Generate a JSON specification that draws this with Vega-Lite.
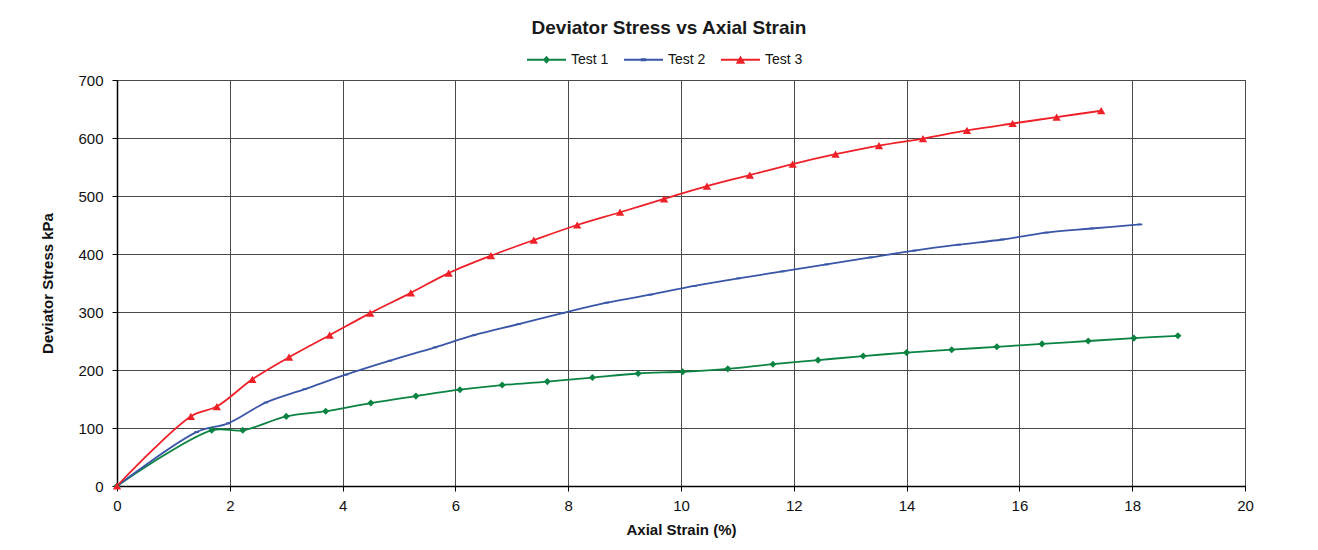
{
  "$schema": "https://vega.github.io/schema/vega-lite/v6.json",
  "autosize": {"type": "none"},
  "width": 1128,
  "height": 406,
  "padding": {"left": 117, "top": 80, "right": 73, "bottom": 64},
  "background": "white",
  "title": {
    "text": "Deviator Stress vs Axial Strain",
    "font": "Liberation Sans",
    "fontSize": 19,
    "fontWeight": "bold",
    "color": "#1a1a1a",
    "anchor": "middle",
    "dx": -12,
    "offset": 2
  },
  "config": {
    "view": {"stroke": "#222", "strokeWidth": 1},
    "font": "Liberation Sans",
    "axis": {
      "labelFont": "Liberation Sans",
      "labelFontSize": 15,
      "labelColor": "#111",
      "labelFlush": false,
      "labelOverlap": false,
      "titleFont": "Liberation Sans",
      "titleFontSize": 15,
      "titleFontWeight": "bold",
      "titleColor": "#111",
      "domainColor": "#000",
      "domainWidth": 1.5,
      "tickColor": "#000",
      "tickSize": 5,
      "gridColor": "#4a4a4a",
      "gridWidth": 1,
      "gridOpacity": 1
    }
  },
  "data": {
    "values": [
      {"test": "Test 1", "strain": 0, "stress": 0},
      {"test": "Test 1", "strain": 1.68, "stress": 96},
      {"test": "Test 1", "strain": 2.23, "stress": 96},
      {"test": "Test 1", "strain": 3.0, "stress": 120},
      {"test": "Test 1", "strain": 3.7, "stress": 129},
      {"test": "Test 1", "strain": 4.5, "stress": 143},
      {"test": "Test 1", "strain": 5.3, "stress": 155},
      {"test": "Test 1", "strain": 6.08, "stress": 166},
      {"test": "Test 1", "strain": 6.83, "stress": 174},
      {"test": "Test 1", "strain": 7.63, "stress": 180},
      {"test": "Test 1", "strain": 8.43, "stress": 187},
      {"test": "Test 1", "strain": 9.24, "stress": 194},
      {"test": "Test 1", "strain": 10.03, "stress": 197},
      {"test": "Test 1", "strain": 10.83, "stress": 202},
      {"test": "Test 1", "strain": 11.63, "stress": 210},
      {"test": "Test 1", "strain": 12.43, "stress": 217},
      {"test": "Test 1", "strain": 13.23, "stress": 224},
      {"test": "Test 1", "strain": 14.0, "stress": 230},
      {"test": "Test 1", "strain": 14.8, "stress": 235},
      {"test": "Test 1", "strain": 15.6, "stress": 240},
      {"test": "Test 1", "strain": 16.4, "stress": 245},
      {"test": "Test 1", "strain": 17.22, "stress": 250},
      {"test": "Test 1", "strain": 18.03, "stress": 255},
      {"test": "Test 1", "strain": 18.81, "stress": 259},
      {"test": "Test 2", "strain": 0, "stress": 0},
      {"test": "Test 2", "strain": 1.41, "stress": 93},
      {"test": "Test 2", "strain": 1.97, "stress": 108},
      {"test": "Test 2", "strain": 2.64, "stress": 144},
      {"test": "Test 2", "strain": 3.33, "stress": 167},
      {"test": "Test 2", "strain": 4.06, "stress": 192},
      {"test": "Test 2", "strain": 4.84, "stress": 216},
      {"test": "Test 2", "strain": 5.64, "stress": 239},
      {"test": "Test 2", "strain": 6.33, "stress": 260},
      {"test": "Test 2", "strain": 7.12, "stress": 279},
      {"test": "Test 2", "strain": 7.9, "stress": 298},
      {"test": "Test 2", "strain": 8.68, "stress": 316},
      {"test": "Test 2", "strain": 9.46, "stress": 330},
      {"test": "Test 2", "strain": 10.24, "stress": 345},
      {"test": "Test 2", "strain": 11.02, "stress": 358},
      {"test": "Test 2", "strain": 11.8, "stress": 370},
      {"test": "Test 2", "strain": 12.58, "stress": 382},
      {"test": "Test 2", "strain": 13.36, "stress": 394},
      {"test": "Test 2", "strain": 14.14, "stress": 406},
      {"test": "Test 2", "strain": 14.92, "stress": 416},
      {"test": "Test 2", "strain": 15.7, "stress": 425},
      {"test": "Test 2", "strain": 16.48, "stress": 437},
      {"test": "Test 2", "strain": 17.28, "stress": 444},
      {"test": "Test 2", "strain": 18.14, "stress": 451},
      {"test": "Test 3", "strain": 0, "stress": 0},
      {"test": "Test 3", "strain": 1.31, "stress": 120},
      {"test": "Test 3", "strain": 1.77, "stress": 137},
      {"test": "Test 3", "strain": 2.4, "stress": 184},
      {"test": "Test 3", "strain": 3.05, "stress": 222},
      {"test": "Test 3", "strain": 3.77, "stress": 260},
      {"test": "Test 3", "strain": 4.49, "stress": 298},
      {"test": "Test 3", "strain": 5.21, "stress": 333},
      {"test": "Test 3", "strain": 5.88, "stress": 367},
      {"test": "Test 3", "strain": 6.63, "stress": 397},
      {"test": "Test 3", "strain": 7.39, "stress": 424},
      {"test": "Test 3", "strain": 8.16, "stress": 450},
      {"test": "Test 3", "strain": 8.92, "stress": 472},
      {"test": "Test 3", "strain": 9.7, "stress": 495},
      {"test": "Test 3", "strain": 10.46, "stress": 517},
      {"test": "Test 3", "strain": 11.22, "stress": 536},
      {"test": "Test 3", "strain": 11.98, "stress": 555},
      {"test": "Test 3", "strain": 12.74, "stress": 572},
      {"test": "Test 3", "strain": 13.51, "stress": 587},
      {"test": "Test 3", "strain": 14.29, "stress": 599},
      {"test": "Test 3", "strain": 15.07, "stress": 613},
      {"test": "Test 3", "strain": 15.88, "stress": 625},
      {"test": "Test 3", "strain": 16.66, "stress": 636},
      {"test": "Test 3", "strain": 17.45, "stress": 647}
    ]
  },
  "encoding": {
    "x": {
      "field": "strain",
      "type": "quantitative",
      "scale": {"domain": [0, 20], "nice": false},
      "axis": {"title": "Axial Strain (%)", "values": [0, 2, 4, 6, 8, 10, 12, 14, 16, 18, 20], "labelPadding": 7, "titlePadding": 9}
    },
    "y": {
      "field": "stress",
      "type": "quantitative",
      "scale": {"domain": [0, 700], "nice": false},
      "axis": {"title": "Deviator Stress kPa", "values": [0, 100, 200, 300, 400, 500, 600, 700], "labelPadding": 9, "titlePadding": 22}
    }
  },
  "layer": [
    {
      "mark": {"type": "line", "interpolate": "catmull-rom", "strokeWidth": 1.8},
      "encoding": {
        "color": {
          "field": "test",
          "type": "nominal",
          "scale": {"domain": ["Test 1", "Test 2", "Test 3"], "range": ["#0B8443", "#3A56A8", "#EE2028"]},
          "legend": {
            "title": null,
            "orient": "none",
            "direction": "horizontal",
            "legendX": 410,
            "legendY": -40,
            "labelFont": "Liberation Sans",
            "labelFontSize": 14,
            "labelColor": "#111",
            "labelOffset": 5,
            "columnPadding": 15,
            "symbolSize": 1521,
            "symbolStrokeWidth": 0,
            "encode": {
              "symbols": {
                "update": {
                  "shape": {"signal": "datum.value === 'Test 1' ? 'M-1,-0.045L1,-0.045L1,0.045L-1,0.045Z M0,-0.2L0.18,0L0,0.2L-0.18,0Z' : datum.value === 'Test 2' ? 'M-1,-0.045L1,-0.045L1,0.045L-1,0.045Z M-0.14,-0.08L0.14,-0.08L0.14,0.08L-0.14,0.08Z' : 'M-1,-0.045L1,-0.045L1,0.045L-1,0.045Z M0,-0.22L0.24,0.2L-0.24,0.2Z'"},
                  "fill": {"signal": "datum.value === 'Test 1' ? '#0B8443' : datum.value === 'Test 2' ? '#3A56A8' : '#EE2028'"},
                  "strokeWidth": {"value": 0}
                }
              }
            }
          }
        }
      }
    },
    {
      "transform": [{"filter": "datum.test === 'Test 1'"}],
      "mark": {"type": "point", "filled": true, "opacity": 1, "shape": "diamond", "size": 50, "color": "#0B8443"}
    },
    {
      "transform": [{"filter": "datum.test === 'Test 2'"}],
      "mark": {"type": "point", "filled": true, "opacity": 1, "shape": "M-1,-0.4L1,-0.4L1,0.4L-1,0.4Z", "size": 20, "color": "#3A56A8"}
    },
    {
      "transform": [{"filter": "datum.test === 'Test 3'"}],
      "mark": {"type": "point", "filled": true, "opacity": 1, "shape": "triangle-up", "size": 70, "color": "#EE2028"}
    }
  ]
}
